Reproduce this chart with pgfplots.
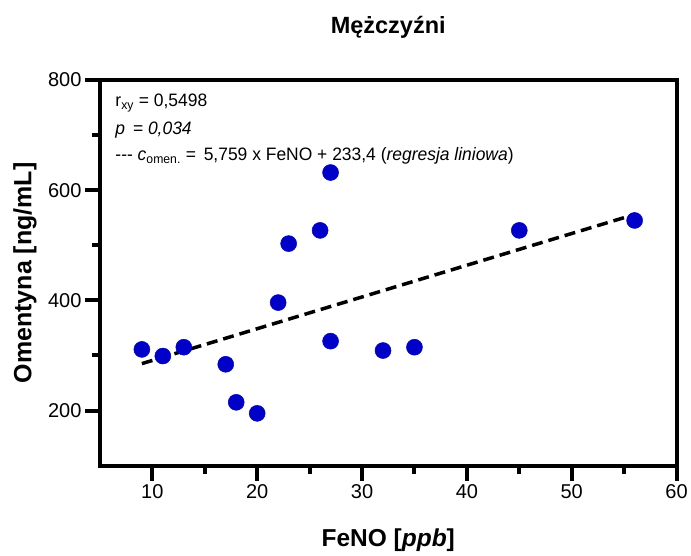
\documentclass[border=0pt]{standalone}
\usepackage{fontspec}
\setmainfont{Liberation Sans}
\newfontfamily\notefont[FakeStretch=0.97]{Liberation Sans}
\usepackage{pgfplots}
\pgfplotsset{compat=1.18}
\definecolor{dotblue}{RGB}{0,0,200}

\begin{document}
\begin{tikzpicture}[line width=4pt]
\begin{axis}[
  scale only axis, width=577pt, height=386pt,
  xmin=5, xmax=60, ymin=100, ymax=800,
  xtick={10,20,...,60}, ytick={200,400,600,800},
  minor xtick={15,25,...,55}, minor ytick={300,500,700},
  xtick pos=left, ytick pos=left,
  tick align=outside, major tick length=15pt, minor tick length=8pt,
  axis line style={line width=4pt, black},
  tick style={line width=4pt, black},
  every tick/.append style={line width=4pt, black},
  every major tick/.append style={line width=4pt},
  every minor tick/.append style={line width=4pt},
  tick label style={font=\fontsize{20}{24}\selectfont},
  /pgf/number format/assume math mode=true,
  clip=false,
]
% frame
\draw[line width=4pt, line cap=rect] (rel axis cs:0,0) rectangle (rel axis cs:1,1);
% measured values
\addplot[only marks, mark=*, mark size=8pt, draw=dotblue, fill=dotblue, line width=0.5pt] coordinates {
  (9,311) (11,299) (13,315) (17,284) (18,215) (20,195) (22,396)
  (23,503) (26,527) (27,632) (27,326) (32,309) (35,315) (45,527) (56,545)
};
% linear regression: c = 5.759 FeNO + 233.4
\addplot[black, line width=3.5pt, dash pattern=on 11pt off 6pt] coordinates {(9,285.231) (56,555.904)};

\node[anchor=base west, font=\notefont\fontsize{18}{22}\selectfont] at ([xshift=12pt,yshift=-27pt]rel axis cs:0,1)
  {r\textsubscript{xy} = 0,5498};
\node[anchor=base west, font=\notefont\fontsize{18}{22}\selectfont\itshape] at ([xshift=12pt,yshift=-55pt]rel axis cs:0,1)
  {p\, = 0,034};
\node[anchor=base west, font=\notefont\fontsize{18}{22}\selectfont] at ([xshift=12pt,yshift=-81pt]rel axis cs:0,1)
  {{-}{-}{-} \textit{c}\textsubscript{omen.} =\, 5,759 x FeNO + 233,4 (\textit{regresja liniowa})};

\node[font=\fontsize{23.5}{27}\selectfont\bfseries] at ([yshift=53pt]rel axis cs:0.5,1) {Mężczyźni};
\node[font=\fontsize{24.5}{28}\selectfont\bfseries] at ([yshift=-75pt]rel axis cs:0.5,0) {FeNO [\textit{ppb}]};
\node[rotate=90, font=\fontsize{25}{28}\selectfont\bfseries] at ([xshift=-75pt]rel axis cs:0,0.5) {Omentyna [ng/mL]};

\coordinate (sw) at (rel axis cs:0,0);
\coordinate (ne) at (rel axis cs:1,1);
\end{axis}
\path[line width=0pt] ([xshift=-100pt,yshift=-90pt]sw) rectangle ([xshift=14pt,yshift=80pt]ne);
\end{tikzpicture}
\end{document}
